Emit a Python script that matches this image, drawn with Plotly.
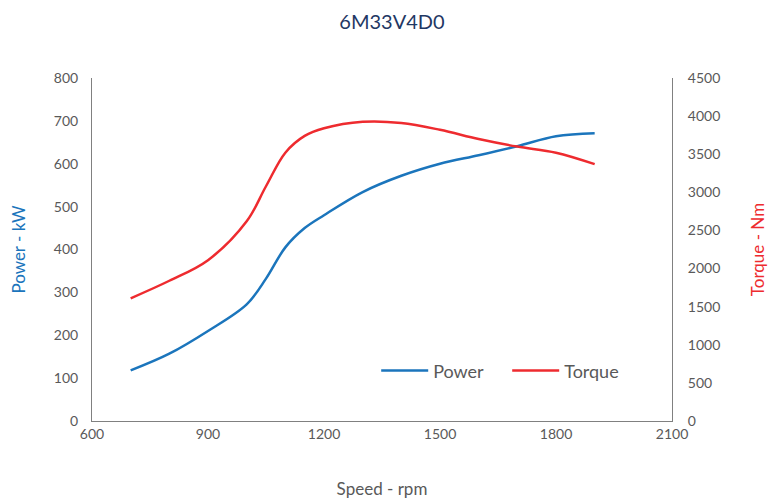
import plotly.graph_objects as go

speed_rpm = [700, 800, 900, 1000, 1050, 1100, 1150, 1200, 1300, 1400, 1500, 1600, 1700, 1800, 1900]
power_kw = [118, 157, 210, 272, 332, 405, 450, 480, 534, 572, 600, 620, 641, 664, 671]
torque_nm = [1610, 1840, 2110, 2620, 3080, 3520, 3740, 3840, 3925, 3910, 3820, 3700, 3600, 3520, 3370]

x_ticks = [600, 900, 1200, 1500, 1800, 2100]

BLUE = "#1b75bc"
RED = "#ee2b2f"
GRAY = "#595959"
AXIS = "#808080"
FONT = "Lato"

fig = go.Figure()
fig.add_trace(go.Scatter(x=speed_rpm, y=power_kw, name="Power", mode="lines",
                         line=dict(color=BLUE, width=2.5, shape="spline", smoothing=1.0)))
fig.add_trace(go.Scatter(x=speed_rpm, y=torque_nm, name="Torque", mode="lines", yaxis="y2",
                         line=dict(color=RED, width=2.5, shape="spline", smoothing=1.0)))

fig.update_layout(
    width=768, height=492,
    margin=dict(l=84, r=104, t=70, b=79),
    paper_bgcolor="white", plot_bgcolor="white",
    font=dict(family=FONT, color=GRAY, size=14),
    title=dict(text="6M33V4D0", x=0.5, xanchor="center", y=0.9715, yanchor="middle",
               font=dict(family=FONT, size=20, color="#1f3864")),
    xaxis=dict(range=[600, 2100], tickvals=x_ticks, showgrid=False, zeroline=False,
               showline=True, linecolor=AXIS, linewidth=1, ticks="", automargin=False,
               title=dict(text="Speed - rpm", standoff=42, font=dict(size=17, color=GRAY)),
               tickfont=dict(size=14, color=GRAY)),
    yaxis=dict(range=[0, 800], dtick=100, showgrid=False, zeroline=False,
               showline=True, linecolor=AXIS, linewidth=1, ticks="", automargin=False,
               ticklabelstandoff=10,
               title=dict(text="Power - kW", standoff=26, font=dict(size=17, color=BLUE)),
               tickfont=dict(size=14, color=GRAY)),
    yaxis2=dict(range=[0, 4500], dtick=500, overlaying="y", side="right",
                showgrid=False, zeroline=False, showline=True, linecolor=AXIS, linewidth=1,
                ticks="", ticklabelstandoff=12, automargin=False,
                title=dict(text="Torque - Nm", standoff=32, font=dict(size=17, color=RED)),
                tickfont=dict(size=14, color=GRAY)),
    legend=dict(orientation="h", x=0.49, y=0.146, xanchor="left", yanchor="middle",
                font=dict(size=18, color=GRAY), bgcolor="rgba(0,0,0,0)",
                itemwidth=47, entrywidth=69, entrywidthmode="pixels", tracegroupgap=0),
    showlegend=True,
)

fig.write_html("out.html")
